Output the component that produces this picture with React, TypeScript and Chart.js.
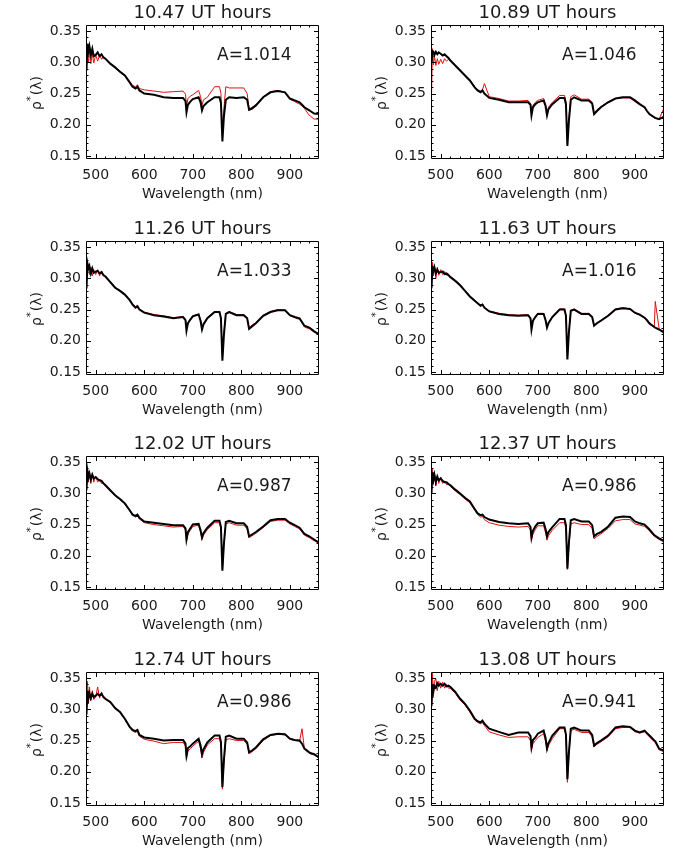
import React, { useEffect, useRef } from 'react';
import { Chart, registerables } from 'chart.js';

Chart.register(...registerables);

// Wavelength grid (nm), shared by all spectra
const WAVELENGTH = [
  480, 481, 483, 485, 487,
  490, 493, 496, 500, 504,
  508, 512, 516, 520, 530,
  540, 550, 560, 570, 576,
  582, 586, 590, 600, 620,
  640, 660, 680, 685, 687,
  690, 695, 700, 712, 716,
  719, 722, 730, 745, 755,
  758, 761, 764, 768, 775,
  790, 805, 812, 816, 822,
  830, 845, 860, 875, 890,
  900, 910, 920, 925, 930, 940, 942, 950, 960,
];

const TITLES = ['10.47 UT hours', '10.89 UT hours', '11.26 UT hours', '11.63 UT hours',
  '12.02 UT hours', '12.37 UT hours', '12.74 UT hours', '13.08 UT hours'];
const A_VALUES = ['1.014', '1.046', '1.033', '1.016', '0.987', '0.986', '0.986', '0.941'];

const X_TICK_LABELS = [500, 600, 700, 800, 900];
const Y_TICK_LABELS = [0.15, 0.2, 0.25, 0.3, 0.35];

// 10.47 UT
const BLACK_1047 = [
  0.322, 0.287, 0.330, 0.318, 0.326, 0.312, 0.322, 0.310, 0.312, 0.316,
  0.310, 0.313, 0.308, 0.306, 0.298, 0.292, 0.285, 0.279, 0.268, 0.261,
  0.258, 0.261, 0.255, 0.250, 0.248, 0.244, 0.243, 0.243, 0.238, 0.220,
  0.232, 0.237, 0.241, 0.244, 0.236, 0.223, 0.230, 0.236, 0.244, 0.244,
  0.235, 0.173, 0.212, 0.240, 0.244, 0.243, 0.244, 0.240, 0.224, 0.226,
  0.231, 0.244, 0.252, 0.254, 0.252,
  0.242, 0.239, 0.236, 0.232, 0.228, 0.223, 0.222, 0.218, 0.217,
];
const RED_1047 = [
  0.310, 0.296, 0.318, 0.300, 0.316, 0.298, 0.314, 0.299, 0.312, 0.302,
  0.312, 0.305, 0.309, 0.306, 0.298, 0.292, 0.286, 0.280, 0.269, 0.263,
  0.261, 0.264, 0.258, 0.256, 0.254, 0.252, 0.253, 0.254, 0.249, 0.228,
  0.242, 0.246, 0.248, 0.255, 0.245, 0.231, 0.240, 0.244, 0.261, 0.261,
  0.250, 0.189, 0.225, 0.261, 0.259, 0.259, 0.259, 0.250, 0.225, 0.228,
  0.232, 0.245, 0.253, 0.255, 0.252,
  0.241, 0.237, 0.233, 0.230, 0.226, 0.215, 0.214, 0.209, 0.209,
];
// 10.89 UT
const BLACK_1089 = [
  0.309, 0.300, 0.318, 0.317, 0.312, 0.317, 0.313, 0.316, 0.314, 0.311,
  0.313, 0.310, 0.307, 0.303, 0.295, 0.287, 0.279, 0.271, 0.260, 0.255,
  0.252, 0.255, 0.250, 0.243, 0.240, 0.236, 0.236, 0.236, 0.232, 0.215,
  0.228, 0.233, 0.236, 0.239, 0.230, 0.215, 0.225, 0.233, 0.243, 0.243,
  0.233, 0.166, 0.205, 0.240, 0.244, 0.239, 0.239, 0.234, 0.217, 0.222,
  0.228, 0.236, 0.242, 0.244, 0.244,
  0.239, 0.233, 0.228, 0.222, 0.217, 0.212, 0.211, 0.209, 0.213,
];
const RED_1089 = [
  0.262, 0.244, 0.322, 0.296, 0.310, 0.295, 0.306, 0.297, 0.305, 0.298,
  0.306, 0.302, 0.305, 0.303, 0.296, 0.288, 0.280, 0.272, 0.261, 0.256,
  0.254, 0.256, 0.266, 0.245, 0.242, 0.238, 0.238, 0.239, 0.234, 0.217,
  0.231, 0.236, 0.239, 0.242, 0.233, 0.218, 0.228, 0.236, 0.247, 0.247,
  0.237, 0.170, 0.210, 0.245, 0.248, 0.241, 0.241, 0.236, 0.219, 0.224,
  0.229, 0.237, 0.242, 0.243, 0.243,
  0.237, 0.232, 0.227, 0.221, 0.216, 0.211, 0.210, 0.209, 0.227,
];
// 11.26 UT
const BLACK_1126 = [
  0.318, 0.284, 0.324, 0.316, 0.320, 0.308, 0.316, 0.309, 0.311, 0.312,
  0.308, 0.310, 0.305, 0.303, 0.294, 0.285, 0.280, 0.274, 0.265, 0.258,
  0.253, 0.255, 0.250, 0.245, 0.241, 0.239, 0.236, 0.238, 0.233, 0.216,
  0.228, 0.234, 0.239, 0.242, 0.232, 0.218, 0.226, 0.236, 0.246, 0.246,
  0.236, 0.168, 0.208, 0.243, 0.246, 0.241, 0.241, 0.236, 0.219, 0.223,
  0.228, 0.240, 0.246, 0.249, 0.249,
  0.241, 0.238, 0.236, 0.230, 0.224, 0.221, 0.220, 0.215, 0.210,
];
const RED_1126 = [
  0.322, 0.300, 0.312, 0.322, 0.306, 0.318, 0.304, 0.314, 0.306, 0.314,
  0.304, 0.312, 0.306, 0.304, 0.295, 0.286, 0.281, 0.275, 0.266, 0.259,
  0.255, 0.257, 0.251, 0.246, 0.242, 0.240, 0.237, 0.239, 0.234, 0.218,
  0.229, 0.235, 0.240, 0.243, 0.233, 0.220, 0.228, 0.237, 0.247, 0.247,
  0.238, 0.172, 0.212, 0.244, 0.247, 0.242, 0.242, 0.237, 0.221, 0.225,
  0.229, 0.241, 0.247, 0.250, 0.249,
  0.240, 0.237, 0.234, 0.228, 0.222, 0.219, 0.218, 0.214, 0.212,
];
// 11.63 UT
const BLACK_1163 = [
  0.313, 0.284, 0.316, 0.312, 0.318, 0.308, 0.314, 0.309, 0.310, 0.311,
  0.307, 0.308, 0.305, 0.302, 0.296, 0.289, 0.280, 0.271, 0.264, 0.260,
  0.256, 0.258, 0.253, 0.247, 0.243, 0.241, 0.240, 0.241, 0.236, 0.218,
  0.232, 0.238, 0.243, 0.243, 0.233, 0.221, 0.228, 0.238, 0.250, 0.250,
  0.240, 0.170, 0.212, 0.248, 0.250, 0.243, 0.243, 0.238, 0.224, 0.228,
  0.232, 0.240, 0.250, 0.252, 0.251,
  0.245, 0.242, 0.237, 0.233, 0.228, 0.222, 0.221, 0.218, 0.213,
];
const RED_1163 = [
  0.329, 0.296, 0.326, 0.304, 0.320, 0.300, 0.318, 0.305, 0.314, 0.306,
  0.311, 0.305, 0.307, 0.303, 0.297, 0.290, 0.281, 0.272, 0.265, 0.261,
  0.257, 0.259, 0.254, 0.248, 0.244, 0.242, 0.241, 0.242, 0.237, 0.220,
  0.233, 0.239, 0.244, 0.244, 0.234, 0.222, 0.229, 0.239, 0.251, 0.251,
  0.241, 0.172, 0.214, 0.249, 0.251, 0.244, 0.244, 0.239, 0.225, 0.229,
  0.233, 0.241, 0.251, 0.253, 0.251,
  0.244, 0.241, 0.236, 0.231, 0.226, 0.222, 0.263, 0.219, 0.215,
];
// 12.02 UT
const BLACK_1202 = [
  0.339, 0.305, 0.336, 0.326, 0.332, 0.322, 0.330, 0.324, 0.326, 0.323,
  0.321, 0.320, 0.316, 0.313, 0.305, 0.297, 0.291, 0.284, 0.273, 0.266,
  0.264, 0.266, 0.261, 0.255, 0.253, 0.251, 0.249, 0.249, 0.244, 0.226,
  0.238, 0.244, 0.250, 0.251, 0.241, 0.229, 0.236, 0.245, 0.256, 0.256,
  0.246, 0.176, 0.218, 0.254, 0.256, 0.252, 0.252, 0.246, 0.231, 0.234,
  0.238, 0.247, 0.257, 0.259, 0.259,
  0.253, 0.249, 0.245, 0.240, 0.235, 0.231, 0.230, 0.226, 0.221,
];
const RED_1202 = [
  0.345, 0.312, 0.340, 0.318, 0.336, 0.316, 0.332, 0.318, 0.328, 0.318,
  0.323, 0.316, 0.317, 0.312, 0.304, 0.296, 0.290, 0.283, 0.272, 0.265,
  0.262, 0.264, 0.259, 0.253, 0.250, 0.248, 0.246, 0.247, 0.241, 0.223,
  0.235, 0.241, 0.247, 0.249, 0.238, 0.226, 0.233, 0.242, 0.253, 0.253,
  0.243, 0.178, 0.216, 0.251, 0.253, 0.249, 0.249, 0.243, 0.229, 0.232,
  0.236, 0.245, 0.255, 0.257, 0.257,
  0.251, 0.247, 0.243, 0.238, 0.233, 0.229, 0.228, 0.224, 0.220,
];
// 12.37 UT
const BLACK_1237 = [
  0.330, 0.300, 0.334, 0.322, 0.330, 0.318, 0.327, 0.321, 0.324, 0.320,
  0.318, 0.318, 0.315, 0.313, 0.306, 0.300, 0.293, 0.287, 0.275, 0.268,
  0.265, 0.266, 0.262, 0.258, 0.254, 0.252, 0.251, 0.252, 0.246, 0.229,
  0.240, 0.247, 0.252, 0.253, 0.243, 0.231, 0.238, 0.246, 0.259, 0.259,
  0.249, 0.179, 0.220, 0.257, 0.259, 0.255, 0.255, 0.249, 0.231, 0.235,
  0.238, 0.247, 0.261, 0.263, 0.262,
  0.255, 0.252, 0.250, 0.246, 0.242, 0.233, 0.232, 0.228, 0.224,
];
const RED_1237 = [
  0.345, 0.310, 0.340, 0.316, 0.334, 0.312, 0.328, 0.316, 0.326, 0.316,
  0.320, 0.314, 0.315, 0.311, 0.304, 0.298, 0.291, 0.285, 0.273, 0.266,
  0.262, 0.263, 0.258, 0.253, 0.249, 0.247, 0.246, 0.247, 0.241, 0.225,
  0.235, 0.242, 0.248, 0.248, 0.237, 0.225, 0.232, 0.241, 0.253, 0.253,
  0.243, 0.178, 0.214, 0.251, 0.253, 0.250, 0.250, 0.244, 0.227, 0.231,
  0.235, 0.244, 0.256, 0.258, 0.258,
  0.251, 0.249, 0.247, 0.244, 0.240, 0.231, 0.230, 0.226, 0.222,
];
// 12.74 UT
const BLACK_1274 = [
  0.296, 0.292, 0.330, 0.318, 0.326, 0.318, 0.325, 0.320, 0.322, 0.325,
  0.322, 0.325, 0.320, 0.317, 0.312, 0.302, 0.296, 0.285, 0.272, 0.267,
  0.265, 0.267, 0.259, 0.255, 0.253, 0.250, 0.251, 0.251, 0.245, 0.226,
  0.238, 0.241, 0.245, 0.253, 0.242, 0.228, 0.236, 0.247, 0.258, 0.258,
  0.248, 0.175, 0.218, 0.256, 0.258, 0.253, 0.253, 0.247, 0.231, 0.234,
  0.239, 0.252, 0.259, 0.261, 0.260,
  0.253, 0.251, 0.250, 0.245, 0.237, 0.231, 0.230, 0.228, 0.223,
];
const RED_1274 = [
  0.358, 0.300, 0.345, 0.310, 0.336, 0.314, 0.330, 0.316, 0.320, 0.336,
  0.318, 0.328, 0.318, 0.316, 0.311, 0.301, 0.295, 0.284, 0.271, 0.265,
  0.263, 0.265, 0.257, 0.252, 0.249, 0.245, 0.247, 0.247, 0.241, 0.220,
  0.233, 0.237, 0.241, 0.249, 0.237, 0.222, 0.231, 0.243, 0.253, 0.253,
  0.243, 0.172, 0.212, 0.251, 0.253, 0.250, 0.250, 0.244, 0.229, 0.232,
  0.237, 0.250, 0.258, 0.260, 0.259,
  0.252, 0.250, 0.249, 0.269, 0.236, 0.230, 0.229, 0.227, 0.222,
];
// 13.08 UT
const BLACK_1308 = [
  0.312, 0.305, 0.340, 0.330, 0.338, 0.335, 0.342, 0.338, 0.341, 0.338,
  0.341, 0.337, 0.338, 0.336, 0.328, 0.317, 0.309, 0.298, 0.285, 0.281,
  0.279, 0.282, 0.277, 0.269, 0.264, 0.259, 0.263, 0.263, 0.257, 0.239,
  0.251, 0.255, 0.261, 0.266, 0.254, 0.237, 0.246, 0.258, 0.271, 0.271,
  0.260, 0.188, 0.230, 0.269, 0.271, 0.266, 0.266, 0.259, 0.242, 0.246,
  0.250, 0.258, 0.271, 0.273, 0.272,
  0.266, 0.263, 0.266, 0.262, 0.258, 0.250, 0.249, 0.237, 0.234,
];
const RED_1308 = [
  0.325, 0.305, 0.358, 0.320, 0.345, 0.349, 0.330, 0.345, 0.334, 0.344,
  0.334, 0.340, 0.334, 0.334, 0.326, 0.315, 0.307, 0.296, 0.283, 0.279,
  0.277, 0.279, 0.274, 0.264, 0.259, 0.255, 0.256, 0.256, 0.250, 0.234,
  0.245, 0.250, 0.255, 0.261, 0.249, 0.234, 0.242, 0.253, 0.269, 0.269,
  0.257, 0.183, 0.226, 0.266, 0.268, 0.263, 0.263, 0.256, 0.240, 0.244,
  0.248, 0.256, 0.269, 0.271, 0.271,
  0.264, 0.262, 0.264, 0.260, 0.256, 0.248, 0.247, 0.235, 0.232,
];

const BLACK_SERIES = [BLACK_1047, BLACK_1089, BLACK_1126, BLACK_1163, BLACK_1202, BLACK_1237, BLACK_1274, BLACK_1308];
const RED_SERIES = [RED_1047, RED_1089, RED_1126, RED_1163, RED_1202, RED_1237, RED_1274, RED_1308];

const FONT = '"DejaVu Sans", "Liberation Sans", sans-serif';
const TEXT_COLOR = '#1a1a1a';
const CANVAS_W = 345;
const CANVAS_H = 216;
const ROW_TOPS = [0, 216, 431, 647];

function toPoints(values: number[]) {
  return WAVELENGTH.map((w, i) => ({ x: w, y: values[i] }));
}

function makeFramePlugin(title: string, aValue: string) {
  return {
    id: 'idlFrame',
    afterDatasetsDraw(chart: any) {
      const { ctx, chartArea: a, scales } = chart;
      const xs = scales.x;
      const ys = scales.y;
      const L = Math.round(a.left), R = Math.round(a.right), T = Math.round(a.top), B = Math.round(a.bottom);
      ctx.save();
      ctx.strokeStyle = '#000';
      ctx.lineWidth = 1;
      ctx.beginPath();
      ctx.rect(L + 0.5, T + 0.5, R - L - 1, B - T - 1);
      ctx.stroke();
      ctx.beginPath();
      for (const t of xs.ticks) {
        const v = t.value;
        if (v <= xs.min || v >= xs.max) continue;
        const major = X_TICK_LABELS.some((m) => Math.abs(m - v) < 1e-6);
        const len = major ? 5 : 2.5;
        const px = Math.round(xs.getPixelForValue(v)) + 0.5;
        ctx.moveTo(px, B); ctx.lineTo(px, B - len);
        ctx.moveTo(px, T); ctx.lineTo(px, T + len);
      }
      for (const t of ys.ticks) {
        const v = t.value;
        if (v <= ys.min + 1e-9 || v >= ys.max - 1e-9) continue;
        const major = Y_TICK_LABELS.some((m) => Math.abs(m - v) < 1e-6);
        const len = major ? 5 : 2.5;
        const py = Math.round(ys.getPixelForValue(v)) + 0.5;
        ctx.moveTo(L, py); ctx.lineTo(L + len, py);
        ctx.moveTo(R, py); ctx.lineTo(R - len, py);
      }
      ctx.stroke();
      ctx.restore();
    },
    afterDraw(chart: any) {
      const { ctx, chartArea: a } = chart;
      const cx = (a.left + a.right) / 2;
      const cy = (a.top + a.bottom) / 2;
      ctx.save();
      ctx.fillStyle = TEXT_COLOR;
      ctx.textBaseline = 'alphabetic';
      // panel title
      ctx.textAlign = 'center';
      ctx.font = `18px ${FONT}`;
      ctx.fillText(title, cx, 18);
      // annotation
      ctx.textAlign = 'left';
      ctx.font = `17px ${FONT}`;
      ctx.fillText(`A=${aValue}`, a.left + 131, 59.5);
      // x axis title
      ctx.textAlign = 'center';
      ctx.font = `14px ${FONT}`;
      ctx.fillText('Wavelength (nm)', cx, 198);
      // y axis title (rotated)
      ctx.translate(41, cy + 1);
      ctx.rotate(-Math.PI / 2);
      ctx.textAlign = 'left';
      const big = `14px ${FONT}`;
      const small = `10px ${FONT}`;
      ctx.font = big;
      const w1 = ctx.measureText('ρ').width;
      const w3 = ctx.measureText('(λ)').width;
      ctx.font = small;
      const w2 = ctx.measureText('*').width;
      let xx = -(w1 + w2 + w3 + 1) / 2;
      ctx.font = big;
      ctx.fillText('ρ', xx, 0);
      xx += w1;
      ctx.font = small;
      ctx.fillText('*', xx, -7);
      xx += w2 + 1;
      ctx.font = big;
      ctx.fillText('(λ)', xx, 0);
      ctx.restore();
    },
  };
}

function Panel({ index }: { index: number }) {
  const ref = useRef<HTMLCanvasElement | null>(null);
  useEffect(() => {
    if (!ref.current) return;
    const chart = new Chart(ref.current, {
      type: 'line',
      data: {
        datasets: [
          {
            data: toPoints(BLACK_SERIES[index]),
            borderColor: '#000000',
            borderWidth: 2,
            pointRadius: 0,
            tension: 0,
          },
          {
            data: toPoints(RED_SERIES[index]),
            borderColor: 'rgb(222,16,16)',
            borderWidth: 1,
            pointRadius: 0,
            tension: 0,
          },
        ],
      },
      options: {
        animation: false,
        responsive: false,
        events: [],
        layout: { padding: { top: 25, right: 26, left: 0, bottom: 0 } },
        plugins: {
          legend: { display: false },
          tooltip: { enabled: false },
          title: { display: false },
        },
        scales: {
          x: {
            type: 'linear',
            min: 480,
            max: 960,
            grid: { display: false, drawTicks: false },
            border: { display: false },
            ticks: {
              stepSize: 20,
              autoSkip: false,
              maxRotation: 0,
              minRotation: 0,
              padding: 8,
              color: TEXT_COLOR,
              font: { family: FONT, size: 14 },
              callback: (v: any) => {
                const n = Number(v);
                return X_TICK_LABELS.some((m) => Math.abs(m - n) < 1e-6) ? String(Math.round(n)) : '';
              },
            },
            afterFit: (s: any) => { s.height = CANVAS_H - 25 - 134; },
          },
          y: {
            type: 'linear',
            min: 0.145,
            max: 0.36,
            grid: { display: false, drawTicks: false },
            border: { display: false },
            ticks: {
              stepSize: 0.01,
              includeBounds: false,
              autoSkip: false,
              padding: 5,
              color: TEXT_COLOR,
              font: { family: FONT, size: 14 },
              callback: (v: any) => {
                const n = Number(v);
                return Y_TICK_LABELS.some((m) => Math.abs(m - n) < 1e-6) ? n.toFixed(2) : '';
              },
            },
            afterFit: (s: any) => { s.width = 86; },
          },
        },
      } as any,
      plugins: [makeFramePlugin(TITLES[index], A_VALUES[index])],
    });
    return () => chart.destroy();
  }, [index]);
  const col = index % 2;
  const row = Math.floor(index / 2);
  return (
    <canvas
      ref={ref}
      width={CANVAS_W}
      height={CANVAS_H}
      style={{ position: 'absolute', left: col * 345, top: ROW_TOPS[row], width: CANVAS_W, height: CANVAS_H }}
    />
  );
}

export default function App() {
  return (
    <div style={{ position: 'absolute', left: 0, top: 0, width: 690, height: 861, background: '#fff' }}>
      {TITLES.map((_, i) => (
        <Panel key={i} index={i} />
      ))}
    </div>
  );
}
